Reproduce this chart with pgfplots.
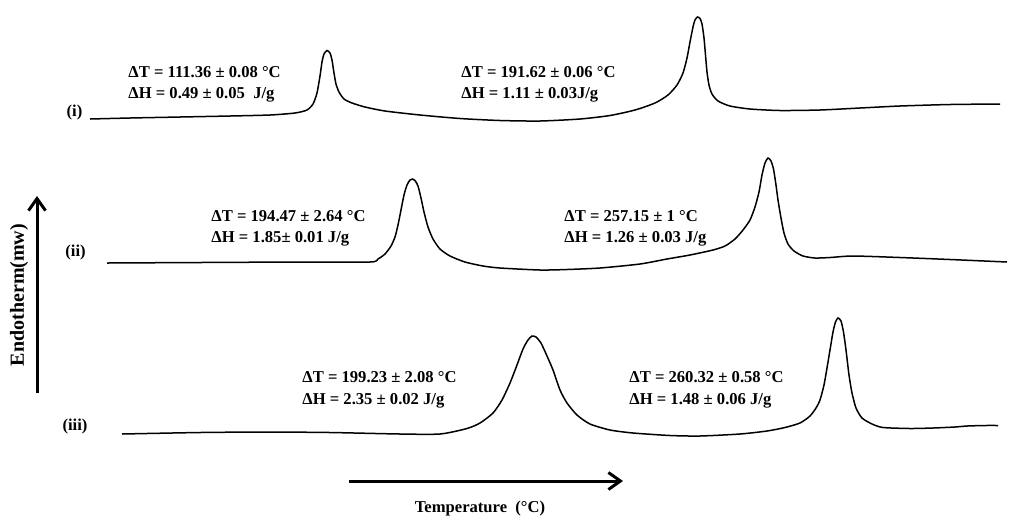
\documentclass[border=0pt]{standalone}
\usepackage{pgfplots}
\pgfplotsset{compat=1.18}
\usepackage{fontspec}
\setmainfont{Liberation Serif}
\usetikzlibrary{arrows.meta}
\tikzset{lbl/.style={font=\fontsize{8.3}{10}\selectfont\bfseries, inner sep=0pt}}
\begin{document}
\begin{tikzpicture}
\begin{axis}[
  scale only axis, width=506.5pt, height=258pt,
  xmin=0, xmax=1013, ymin=0, ymax=516, y dir=reverse,
  hide axis, clip=false,
]
\path[draw=none] (axis cs:0,0) rectangle (axis cs:1013,516);
% curve (i)
\addplot[black, line width=0.75pt, smooth, tension=0.4] coordinates {
(90,119) (130,118) (180,117) (230,116) (270,115) (295,113) (307,110) (313,104) (317,93) (320,76) (322,62) (324,54) (327,50.5) (330,53) (332,60) (334,73) (336,84) (339,92) (344,99) (352,103) (365,107) (385,111) (420,115) (460,118.5) (500,120.5) (540,121) (580,119) (610,115.5) (635,110) (655,103) (668,95) (677,85) (683,73) (687,58) (690,42) (693,27) (695,20) (697.5,17) (700,18.5) (702,24) (704,38) (705.5,55) (707,72) (709,85) (712,94) (718,101) (730,106) (750,109) (780,110.5) (820,110) (860,108) (900,106) (950,104.5) (1000,104)
};
% curve (ii)
\addplot[black, line width=0.75pt, smooth, tension=0.4] coordinates {
(107,263) (200,262.5) (300,262) (370,262) (378,259) (385,254) (391,246) (395,237) (398,225) (401,210) (404,195) (407,185) (410,180) (412.5,179) (415,180.5) (418,186) (421,198) (424,212) (428,227) (433,239) (440,249) (450,256) (465,262) (483,266) (500,268) (540,270) (567,269.5) (600,268) (640,264) (667,259) (690,255) (713,250) (725,246) (735,239) (743,230) (750,220) (755,207) (759,192) (762,175) (765,163) (768,158) (771,161) (773.5,169) (776,185) (778,200) (781,218) (784,233) (788,244) (794,251) (803,256) (815,258) (830,257.5) (853,256) (900,257.5) (950,259.5) (1007,262)
};
% curve (iii)
\addplot[black, line width=0.75pt, smooth, tension=0.4] coordinates {
(122,434) (200,432.5) (267,432) (330,432.5) (400,434) (440,434) (467,428.5) (480,423) (493,413) (502,400) (510,383) (517,365) (523,349) (528,340) (532,336) (536,337) (541,343) (547,356) (553,370) (560,390) (567,403) (577,415) (590,424) (610,430) (633,433) (670,435.5) (700,436) (740,434) (767,431) (785,427.5) (800,423) (810,416) (816,408) (820,400) (824,385) (827,368) (830,350) (833,332) (835.5,322) (838,318) (841,321) (843.5,332) (846,350) (849,375) (852,393) (856,408) (862,418) (872,424) (883,427.5) (910,428.5) (933,428) (955,427) (967,426) (985,425.5) (998,425.5)
};
% arrows
\addplot[black, line width=1.5pt, -{Straight Barb[length=6pt,width=8.5pt]}] coordinates {(37,393) (37,196)};
\addplot[black, line width=1.5pt, -{Straight Barb[length=6pt,width=8.5pt]}] coordinates {(349,481) (623,481)};
% labels
\node[lbl] at (axis cs:74.5,112) {(i)};
\node[lbl] at (axis cs:75.5,252) {(ii)};
\node[lbl] at (axis cs:75,426) {(iii)};
\node[lbl, font=\fontsize{10}{12}\selectfont\bfseries, rotate=90] at (axis cs:19,295) {Endotherm(mw)};
\node[lbl] at (axis cs:480,508) {Temperature~ (°C)};
% annotations
\node[lbl, anchor=base west] at (axis cs:128,77.5) {ΔT = 111.36 ± 0.08 °C};
\node[lbl, anchor=base west] at (axis cs:128,98) {ΔH = 0.49 ± 0.05~ J/g};
\node[lbl, anchor=base west] at (axis cs:461,77.5) {ΔT = 191.62 ± 0.06 °C};
\node[lbl, anchor=base west] at (axis cs:461,98) {ΔH = 1.11 ± 0.03J/g};
\node[lbl, anchor=base west] at (axis cs:211,221) {ΔT = 194.47 ± 2.64 °C};
\node[lbl, anchor=base west] at (axis cs:211,242) {ΔH = 1.85± 0.01 J/g};
\node[lbl, anchor=base west] at (axis cs:564,221) {ΔT = 257.15 ± 1 °C};
\node[lbl, anchor=base west] at (axis cs:564,242) {ΔH = 1.26 ± 0.03 J/g};
\node[lbl, anchor=base west] at (axis cs:302,382) {ΔT = 199.23 ± 2.08 °C};
\node[lbl, anchor=base west] at (axis cs:302,404) {ΔH = 2.35 ± 0.02 J/g};
\node[lbl, anchor=base west] at (axis cs:629,382) {ΔT = 260.32 ± 0.58 °C};
\node[lbl, anchor=base west] at (axis cs:629,404) {ΔH = 1.48 ± 0.06 J/g};
\end{axis}
\end{tikzpicture}
\end{document}
